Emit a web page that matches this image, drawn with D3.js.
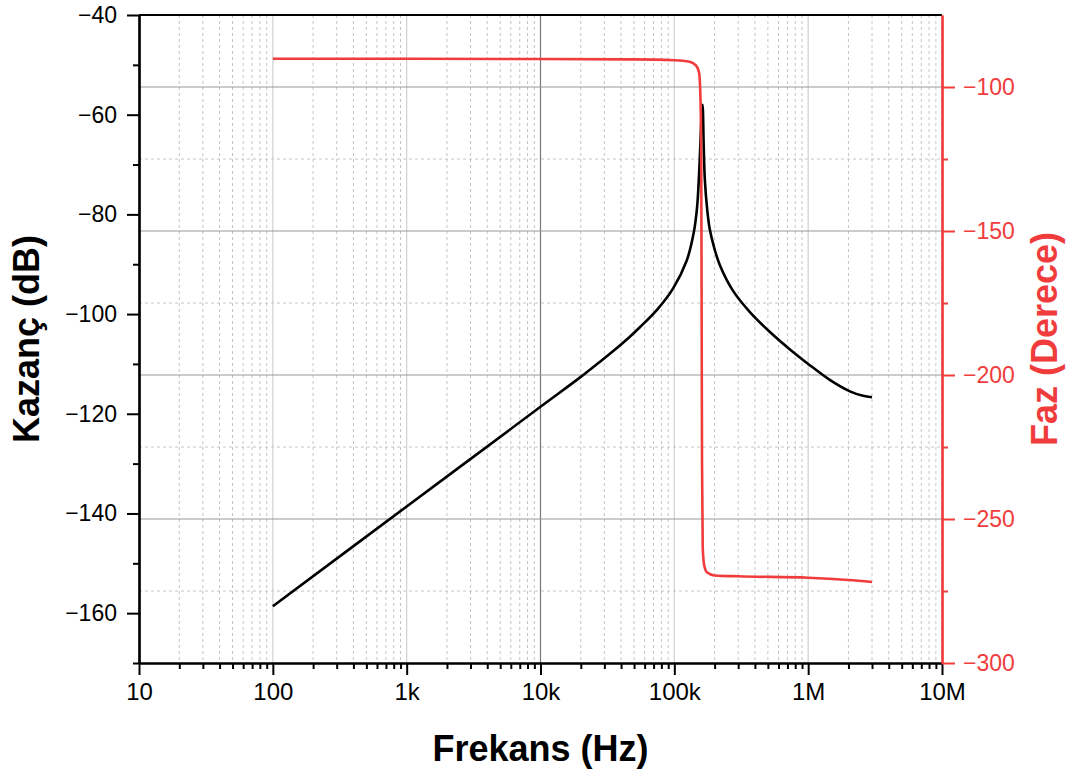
<!DOCTYPE html>
<html>
<head>
<meta charset="utf-8">
<script src="https://cdn.jsdelivr.net/npm/d3@7"></script>
<style>
body { margin: 0; background: #fff; }
#chart svg text { font-family: Arial, "Liberation Sans", sans-serif; }
</style>
</head>
<body>
<div id="chart"><svg></svg></div>
<script>
// values
var gainFreq = [100, 1000, 10000, 20000, 28000, 37600, 45000, 55500, 75000, 97700, 124000, 140000, 148000, 153000, 157000, 160000, 162500, 166000, 169000, 176000, 184000, 200000, 219000, 274000, 367000, 518000, 731000, 1000000, 1450000, 2050000, 2570000, 3000000];
var gainDb = [-158.6, -138.6, -118.6, -112.6, -109.5, -106.7, -104.9, -102.6, -99.0, -94.9, -89.2, -83.5, -78.5, -72, -65, -60, -58, -67, -73, -79, -83, -87, -90.2, -95.3, -99.6, -103.6, -107.1, -110.0, -113.2, -115.5, -116.4, -116.7];

var phaseFreq = [100, 1000, 10000, 50000, 100000, 130000, 145000, 153000, 157000, 159000, 160000, 161000, 163000, 167000, 175000, 200000, 300000, 1000000, 2000000, 3000000];
var phaseDeg = [-90.2, -90.2, -90.3, -90.4, -90.7, -91.2, -92.5, -95, -105, -130, -180, -230, -260, -266, -268.5, -269.6, -269.9, -270.4, -271.2, -271.9];

var xTickValues = [10, 100, 1e3, 1e4, 1e5, 1e6, 1e7];
var xTickLabels = ["10", "100", "1k", "10k", "100k", "1M", "10M"];
var gainTicks = [-160, -140, -120, -100, -80, -60, -40];
var phaseTicks = [-300, -250, -200, -150, -100];

var xTitle = "Frekans (Hz)";
var gainTitle = "Kazanç (dB)";
var phaseTitle = "Faz (Derece)";

var red = "#f03c3c";

var build = function() {
  var margin = { top: 15, right: 133, bottom: 117, left: 139 };
  var W = 1075, H = 780;
  var width = W - margin.left - margin.right;
  var height = H - margin.top - margin.bottom;

  var svg = d3.select("#chart svg").
    attr("width", W).
    attr("height", H).
    append("g").
    attr("transform", "translate(" + margin.left + "," + margin.top + ")");

  var xScale = d3.scaleLog().domain([10, 1e7]).range([0, width]);
  var yGain = d3.scaleLinear().domain([-170, -40]).range([height, 0]);
  var yPhase = d3.scaleLinear().domain([-300, -75]).range([height, 0]);

  var xMinor = [];
  for (var d = 10; d < 1e7; d *= 10) {
    for (var m = 2; m <= 9; m++) xMinor.push(d * m);
  }
  var gainMinor = d3.range(-170, -39, 10).filter(function(v) { return gainTicks.indexOf(v) < 0; });
  var phaseMinor = [-275, -225, -175, -125];

  // grid
  var grid = svg.append("g").attr("class", "grid");
  grid.selectAll(".vminor").data(xMinor).enter().append("line").
    attr("x1", function(v) { return xScale(v); }).
    attr("x2", function(v) { return xScale(v); }).
    attr("y1", 0).attr("y2", height).
    attr("stroke", "#c4c4c4").
    attr("stroke-dasharray", "3,3").
    attr("stroke-width", 1);
  grid.selectAll(".vmajor").data(xTickValues.slice(1, -1)).enter().append("line").
    attr("x1", function(v) { return xScale(v); }).
    attr("x2", function(v) { return xScale(v); }).
    attr("y1", 0).attr("y2", height).
    attr("stroke", function(v) { return v === 1e4 ? "#777" : "#d0d0d0"; }).
    attr("stroke-width", 1.2);
  grid.selectAll(".hminor").data(phaseMinor).enter().append("line").
    attr("x1", 0).attr("x2", width).
    attr("y1", function(v) { return yPhase(v); }).
    attr("y2", function(v) { return yPhase(v); }).
    attr("stroke", "#c4c4c4").
    attr("stroke-dasharray", "3,3").
    attr("stroke-width", 1);
  grid.selectAll(".hmajor").data(phaseTicks.slice(1)).enter().append("line").
    attr("x1", 0).attr("x2", width).
    attr("y1", function(v) { return yPhase(v); }).
    attr("y2", function(v) { return yPhase(v); }).
    attr("stroke", "#999").
    attr("stroke-width", 1.2);

  // curves
  var gainData = gainFreq.map(function(f, i) { return { x: f, y: gainDb[i] }; });
  var phaseData = phaseFreq.map(function(f, i) { return { x: f, y: phaseDeg[i] }; });

  var gainLine = d3.line().
    x(function(d) { return xScale(d.x); }).
    y(function(d) { return yGain(d.y); }).
    curve(d3.curveCatmullRom.alpha(0.5));
  var phaseLine = d3.line().
    x(function(d) { return xScale(d.x); }).
    y(function(d) { return yPhase(d.y); }).
    curve(d3.curveMonotoneX);

  svg.append("path").
    datum(gainData).
    attr("fill", "none").
    attr("stroke", "#000").
    attr("stroke-width", 2.6).
    attr("stroke-linejoin", "round").
    attr("d", gainLine);

  svg.append("path").
    datum(phaseData).
    attr("fill", "none").
    attr("stroke", red).
    attr("stroke-width", 2.6).
    attr("stroke-linejoin", "round").
    attr("d", phaseLine);

  // axes
  var styleAxis = function(g, color) {
    g.select(".domain").attr("stroke", color).attr("stroke-width", 2.2);
    g.selectAll(".tick line").attr("stroke", color).attr("stroke-width", 2);
    g.selectAll(".tick text").attr("fill", color).style("font-size", "23px");
  };

  var gX = svg.append("g").
    attr("transform", "translate(0," + height + ")").
    call(d3.axisBottom(xScale).tickValues(xTickValues).
      tickFormat(function(v, i) { return xTickLabels[i]; }).
      tickSize(12).tickSizeOuter(0).tickPadding(8));
  styleAxis(gX, "#000");
  gX.selectAll(".tick text").style("font-size", "24px");

  var gXm = svg.append("g").
    attr("transform", "translate(0," + height + ")").
    call(d3.axisBottom(xScale).tickValues(xMinor).tickFormat("").tickSize(6).tickSizeOuter(0));
  styleAxis(gXm, "#000");

  svg.append("line").
    attr("x1", 0).attr("x2", width).attr("y1", 0).attr("y2", 0).
    attr("stroke", "#000").attr("stroke-width", 2.2);

  var gL = svg.append("g").
    call(d3.axisLeft(yGain).tickValues(gainTicks).tickSize(12).tickSizeOuter(0).tickPadding(10));
  styleAxis(gL, "#000");
  var gLm = svg.append("g").
    call(d3.axisLeft(yGain).tickValues(gainMinor).tickFormat("").tickSize(6).tickSizeOuter(0));
  styleAxis(gLm, "#000");

  var gR = svg.append("g").
    attr("transform", "translate(" + width + ",0)").
    call(d3.axisRight(yPhase).tickValues(phaseTicks).tickSize(13).tickSizeOuter(0).tickPadding(8));
  styleAxis(gR, red);
  var gRm = svg.append("g").
    attr("transform", "translate(" + width + ",0)").
    call(d3.axisRight(yPhase).tickValues(phaseMinor).tickFormat("").tickSize(6).tickSizeOuter(0));
  styleAxis(gRm, red);

  // titles
  svg.append("text").
    attr("x", width / 2).
    attr("y", 746).
    attr("text-anchor", "middle").
    style("font-size", "36px").
    style("font-weight", "bold").
    text(xTitle);

  svg.append("text").
    attr("transform", "translate(" + (39 - margin.left) + "," + (height / 2) + ") rotate(-90)").
    attr("text-anchor", "middle").
    style("font-size", "36px").
    style("font-weight", "bold").
    text(gainTitle);

  svg.append("text").
    attr("transform", "translate(" + (1057 - margin.left) + "," + (height / 2) + ") rotate(-90)").
    attr("text-anchor", "middle").
    attr("fill", red).
    style("font-size", "36px").
    style("font-weight", "bold").
    text(phaseTitle);
};

build();
</script>
</body>
</html>
